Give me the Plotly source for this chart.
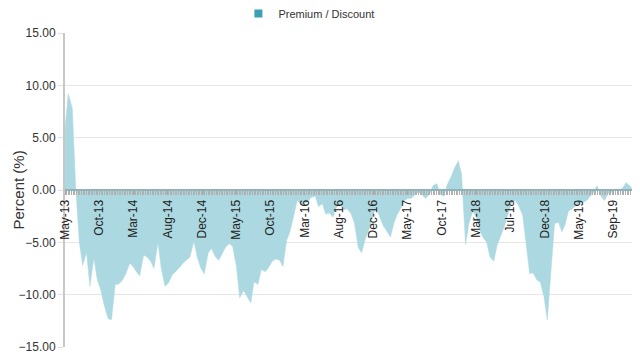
import pandas as pd
import plotly.graph_objects as go

# Semi-monthly observations (1st and 15th), May 2013 - Jan 2020
dates = pd.date_range("2013-05-01", periods=161, freq="SMS")

premium_discount = [
    5.9, 9.2, 7.8, 0.5, -5.0, -7.2, -6.0, -9.2, -6.5, -8.5,
    -9.6, -11.0, -12.3, -12.4, -9.0, -9.0, -8.6, -8.0, -7.0, -7.3,
    -7.8, -8.2, -6.2, -6.4, -6.8, -7.5, -5.0, -7.5, -9.2, -8.9,
    -8.1, -7.8, -7.4, -7.0, -6.7, -6.4, -4.9, -6.4, -7.5, -8.0,
    -6.0, -5.6, -6.4, -6.7, -6.1, -5.5, -5.1, -5.4, -7.3, -10.3,
    -9.6, -10.1, -10.8, -8.8, -9.0, -7.6, -7.8, -7.4, -6.8, -6.6,
    -6.7, -7.3, -4.8, -4.0, -2.5, -1.0, -1.4, -1.3, -1.1, -0.7,
    -0.6, -1.6, -1.3, -2.3, -2.2, -2.6, -1.6, -1.4, -1.9, -1.8,
    -2.3, -3.2, -5.5, -6.0, -4.6, -3.8, -2.5, -1.7, -2.6, -3.4,
    -4.0, -4.5, -3.2, -2.4, -1.7, -1.0, -0.8, -0.8, -0.4, -0.2,
    -0.5, -0.8, -0.4, 0.4, 0.6, -0.4, -0.6, 0.5, 1.3, 2.1,
    2.8, 1.5, -5.2, -3.2, -2.0, -2.6, -3.7, -4.5, -5.0, -6.4,
    -6.8, -5.3, -4.3, -3.5, -2.3, -1.3, -1.0, -1.5, -2.4, -5.2,
    -8.0, -7.9, -8.6, -8.8, -10.2, -12.4, -7.0, -3.2, -3.1, -4.0,
    -3.3, -2.0, -1.8, -1.5, -1.3, -1.2, -1.0, -0.6, -0.2, 0.4,
    -0.6, -1.0, -0.3, -0.2, 0.1, 0.0, 0.2, 0.7, 0.4, 0.0,
    0.1,
]

tick_dates = [
    "2013-05-01", "2013-09-24", "2014-02-17", "2014-07-13", "2014-12-06",
    "2015-05-01", "2015-09-23", "2016-02-16", "2016-07-11", "2016-12-04",
    "2017-04-29", "2017-09-22", "2018-02-15", "2018-07-11", "2018-12-04",
    "2019-04-29", "2019-09-21",
]
tick_labels = [
    "May-13", "Oct-13", "Mar-14", "Aug-14", "Dec-14",
    "May-15", "Oct-15", "Mar-16", "Aug-16", "Dec-16",
    "May-17", "Oct-17", "Mar-18", "Jul-18", "Dec-18",
    "May-19", "Sep-19",
]
y_ticks = [15, 10, 5, 0, -5, -10, -15]
y_title = "Percent (%)"

FONT = "Liberation Sans, Arial, sans-serif"

fig = go.Figure()
fig.add_trace(go.Scatter(
    x=dates, y=premium_discount, mode="lines", fill="tozeroy",
    line=dict(color="#acd9e1", width=0.5), fillcolor="#acd9e1",
    showlegend=False, name="Premium / Discount",
))
fig.add_trace(go.Scatter(
    x=[None], y=[None], mode="markers", name="Premium / Discount",
    marker=dict(symbol="square", size=8, color="#3aa1b4"),
))

# the page body adds an 8px offset, so margins are set 8px smaller on top/left
fig.update_layout(
    width=640, height=356,
    margin=dict(l=57, r=11, t=25, b=17, autoexpand=False),
    paper_bgcolor="white", plot_bgcolor="white",
    font=dict(family=FONT, color="#333333", size=11),
    legend=dict(orientation="h", xref="container", yref="paper",
                x=0.36, xanchor="left", y=1.108, yanchor="top",
                font=dict(size=11, color="#333333"), itemwidth=30),
    xaxis=dict(
        type="date", range=[dates[0], dates[-1]],
        anchor="free", position=0.5,
        tickmode="array", tickvals=tick_dates, ticktext=tick_labels,
        tickangle=-90, tickfont=dict(size=12, color="#222222"),
        ticks="outside", ticklen=4, tickcolor="#aaaaaa",
        minor=dict(ticks="outside", ticklen=4, tickcolor="#b0b0b0",
                   dtick=7 * 86400000, tick0="2013-05-01"),
        showgrid=False, showline=True, linecolor="#8fb3b9", linewidth=2,
        zeroline=False,
    ),
    yaxis=dict(
        range=[-15, 15], tickmode="array", tickvals=y_ticks,
        tickformat=".2f", tickfont=dict(size=12, color="#333333"),
        showgrid=True, gridcolor="#e6e6e6", gridwidth=1,
        zeroline=False, showline=True, linecolor="#c8c8c8", linewidth=2,
        ticks="outside", ticklen=5, tickcolor="#e0e0e0",
    ),
    annotations=[dict(
        text=y_title, xref="paper", yref="paper", x=-0.083, y=0.5,
        xanchor="center", yanchor="middle", textangle=-90, showarrow=False,
        font=dict(size=15, color="#333333"),
    )],
)

fig.write_html("out.html")
